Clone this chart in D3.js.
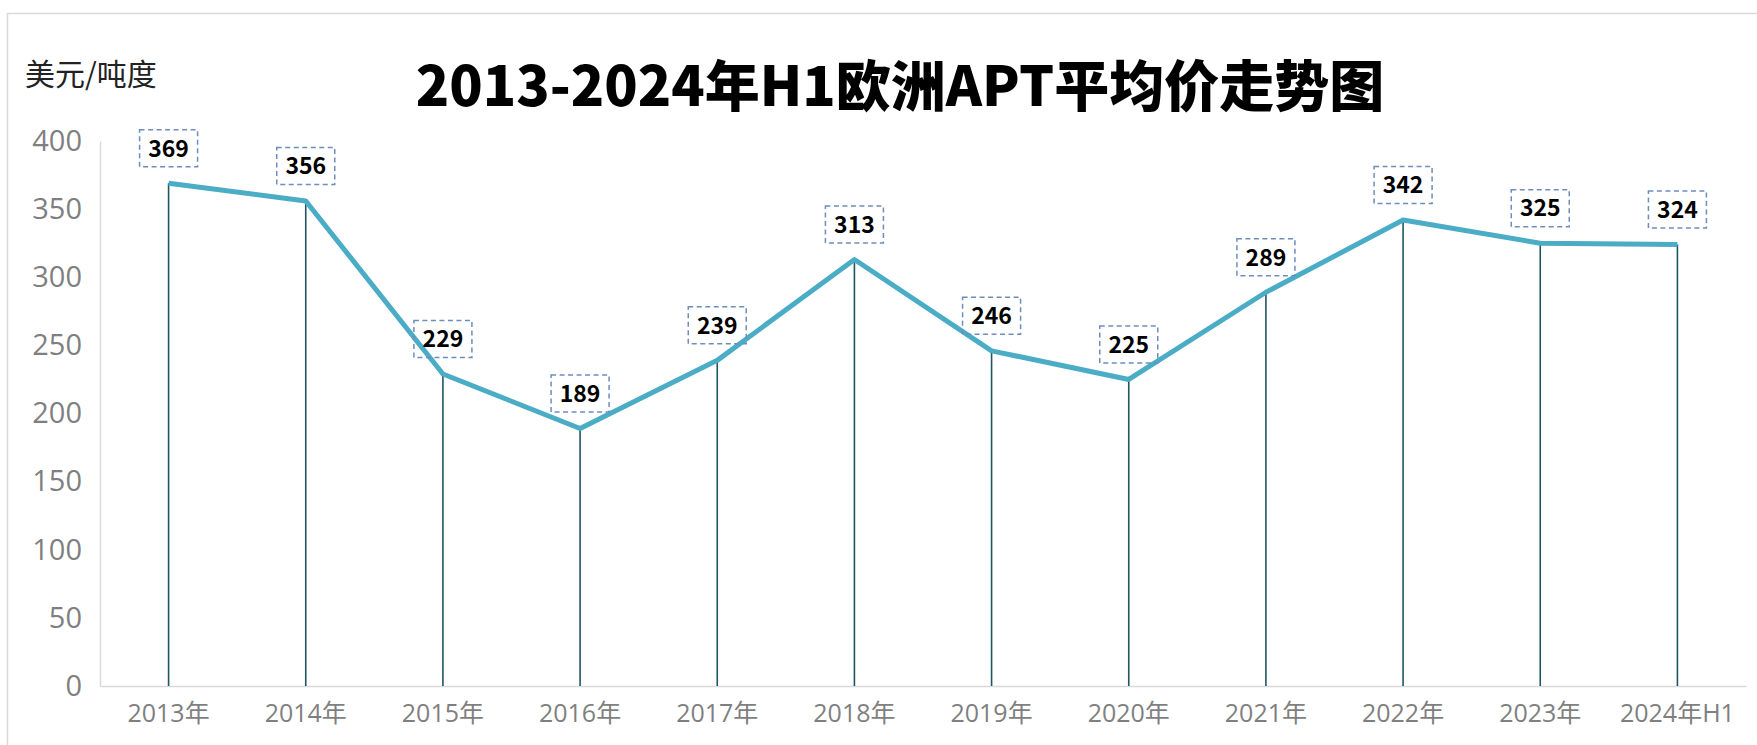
<!DOCTYPE html>
<html>
<head>
<meta charset="utf-8">
<script src="https://cdn.jsdelivr.net/npm/d3@7"></script>
<style>
  html, body { margin: 0; padding: 0; background: #fff; overflow: hidden; }
  text { font-family: "Noto Sans CJK SC", "Noto Sans", sans-serif; }
</style>
</head>
<body>
<div id="chart"></div>
<script>
// chart data
const categories = ["2013年", "2014年", "2015年", "2016年", "2017年", "2018年",
                    "2019年", "2020年", "2021年", "2022年", "2023年", "2024年H1"];
const prices = [369, 356, 229, 189, 239, 313, 246, 225, 289, 342, 325, 324];
const yTicks = [0, 50, 100, 150, 200, 250, 300, 350, 400];

const W = 1757, H = 745;
const margin = { top: 141, right: 11, bottom: 59, left: 100 },
      width = W - margin.left - margin.right,
      height = H - margin.top - margin.bottom;

const axisFont = '"Open Sans", "Noto Sans CJK SC", sans-serif';

const svg = d3.select("#chart")
    .append("svg")
    .attr("width", W)
    .attr("height", H);

// outer frame (only top and left edges fall inside the window)
svg.append("rect")
    .attr("x", 7.5).attr("y", 13.5)
    .attr("width", W).attr("height", H)
    .attr("fill", "none")
    .attr("stroke", "#d9d9d9")
    .attr("stroke-width", 1.5);

// title + unit
svg.append("text")
    .attr("x", 900).attr("y", 106)
    .attr("text-anchor", "middle")
    .attr("font-size", 55)
    .attr("font-weight", 900)
    .attr("fill", "#000")
    .text("2013-2024年H1欧洲APT平均价走势图");

svg.append("text")
    .attr("x", 25).attr("y", 85)
    .attr("font-size", 30)
    .attr("fill", "#222")
    .text("美元/吨度");

const g = svg.append("g")
    .attr("transform", `translate(${margin.left},${margin.top})`);

// scales
const x = d3.scaleBand()
    .domain(categories)
    .range([0, width])
    .padding(0);
const y = d3.scaleLinear()
    .domain([0, 400])
    .range([height, 0]);
const cx = d => x(d) + x.bandwidth() / 2;

// y axis
const yAxis = g.append("g")
    .call(d3.axisLeft(y).tickValues(yTicks).tickSize(0).tickPadding(18));
yAxis.select(".domain").attr("stroke", "#d9d9d9").attr("stroke-width", 1.5);
yAxis.selectAll("text")
    .attr("font-size", 29)
    .attr("fill", "#7f7f7f")
    .style("font-family", axisFont);

// x axis
const xAxis = g.append("g")
    .attr("transform", `translate(0,${height})`)
    .call(d3.axisBottom(x).tickSize(0).tickPadding(18));
xAxis.select(".domain").attr("stroke", "#d9d9d9").attr("stroke-width", 1.5);
xAxis.selectAll("text")
    .attr("font-size", 25)
    .attr("fill", "#7f7f7f")
    .style("font-family", axisFont);

// drop lines
g.selectAll(".drop")
    .data(prices)
    .enter()
    .append("line")
    .attr("class", "drop")
    .attr("x1", (d, i) => cx(categories[i]))
    .attr("x2", (d, i) => cx(categories[i]))
    .attr("y1", d => y(d))
    .attr("y2", height)
    .attr("stroke", "#1f5662")
    .attr("stroke-width", 1.6);

// price line
const line = d3.line()
    .x((d, i) => cx(categories[i]))
    .y(d => y(d));

g.append("path")
    .datum(prices)
    .attr("fill", "none")
    .attr("stroke", "#4bacc6")
    .attr("stroke-width", 5)
    .attr("stroke-linejoin", "round")
    .attr("d", line);

// value labels in dashed boxes
const labels = g.selectAll(".lbl")
    .data(prices)
    .enter()
    .append("g")
    .attr("class", "lbl")
    .attr("transform", (d, i) => `translate(${cx(categories[i])},${y(d) - 35})`);

labels.append("rect")
    .attr("x", -29).attr("y", -18.5)
    .attr("width", 58).attr("height", 37)
    .attr("fill", "none")
    .attr("stroke", "#6d8dbd")
    .attr("stroke-width", 1.5)
    .attr("stroke-dasharray", "5,3.5");

labels.append("text")
    .attr("text-anchor", "middle")
    .attr("dy", "0.36em")
    .attr("font-size", 23)
    .attr("font-weight", 700)
    .attr("fill", "#000")
    .text(d => d);
</script>
</body>
</html>
